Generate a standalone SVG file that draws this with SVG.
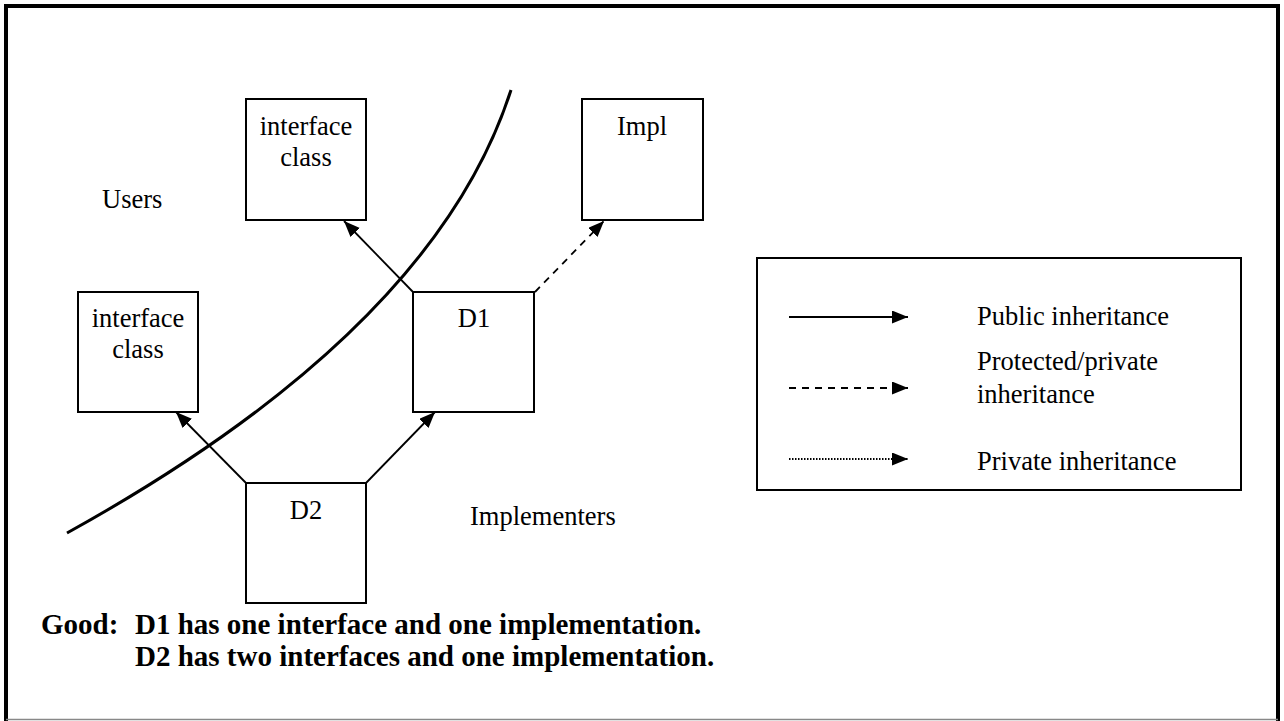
<svg xmlns="http://www.w3.org/2000/svg" width="1284" height="721" viewBox="0 0 1284 721">
<style>
text{font-family:"Liberation Serif","Times New Roman",serif;font-size:26.5px;fill:#000}
.b{font-weight:bold;font-size:29px}
.m{text-anchor:middle}
.box{fill:#fff;stroke:#000;stroke-width:2}
.ln{fill:none;stroke:#000;stroke-width:1.8}
</style>
<defs>
<marker id="ah" markerUnits="userSpaceOnUse" markerWidth="17" markerHeight="14" refX="16" refY="6.5" orient="auto">
<path d="M0,0 L16,6.5 L0,13 z" fill="#000"/>
</marker>
</defs>
<rect width="1284" height="721" fill="#fff"/>
<path d="M6,721 V6 H1278 V721" fill="none" stroke="#000" stroke-width="4"/>
<line x1="6" y1="719.5" x2="1278" y2="719.5" stroke="#888" stroke-width="1.5"/>

<path id="divider" d="M511,90 Q434,330 67,533" fill="none" stroke="#000" stroke-width="3"/>

<g id="connectors">
<line class="ln" x1="413" y1="292" x2="344" y2="221" marker-end="url(#ah)"/>
<line class="ln" x1="535" y1="292" x2="604" y2="221" stroke-dasharray="7,6" marker-end="url(#ah)"/>
<line class="ln" x1="246" y1="483" x2="176" y2="412" marker-end="url(#ah)"/>
<line class="ln" x1="366" y1="483" x2="435" y2="412" marker-end="url(#ah)"/>
</g>

<g id="iface-top">
<rect class="box" x="246" y="99" width="120" height="121"/>
<text class="m" x="306" y="135">interface</text>
<text class="m" x="306" y="166">class</text>
</g>
<g id="impl">
<rect class="box" x="582" y="99" width="121" height="121"/>
<text class="m" x="642" y="135">Impl</text>
</g>
<g id="d1">
<rect class="box" x="413" y="292" width="121" height="120"/>
<text class="m" x="474" y="327">D1</text>
</g>
<g id="iface-left">
<rect class="box" x="78" y="292" width="120" height="120"/>
<text class="m" x="138" y="327">interface</text>
<text class="m" x="138" y="358">class</text>
</g>
<g id="d2">
<rect class="box" x="246" y="483" width="120" height="120"/>
<text class="m" x="306" y="519">D2</text>
</g>

<g id="labels">
<text x="102" y="208">Users</text>
<text x="470" y="525">Implementers</text>
<text class="b" x="41" y="634">Good:</text>
<text class="b" x="135" y="634">D1 has one interface and one implementation.</text>
<text class="b" x="135" y="666">D2 has two interfaces and one implementation.</text>
</g>

<g id="legend">
<rect class="box" x="757" y="258" width="484" height="232"/>
<line class="ln" x1="789" y1="317" x2="908" y2="317" marker-end="url(#ah)"/>
<text x="977" y="325">Public inheritance</text>
<line class="ln" x1="789" y1="388" x2="908" y2="388" stroke-dasharray="7,6" marker-end="url(#ah)"/>
<text x="977" y="370">Protected/private</text>
<text x="977" y="403">inheritance</text>
<line class="ln" x1="789" y1="459" x2="908" y2="459" stroke-dasharray="1.5,1.5" stroke-width="1.2" marker-end="url(#ah)"/>
<text x="977" y="470">Private inheritance</text>
</g>
</svg>
